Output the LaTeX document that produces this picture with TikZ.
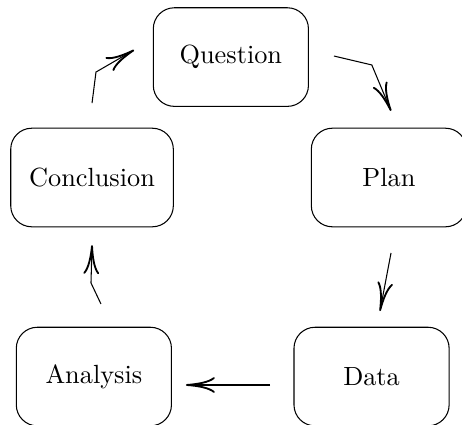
\documentclass[tikz,border=0pt]{standalone}
\usetikzlibrary{arrows.meta,positioning}

\begin{document}
\begin{tikzpicture}[x=1pt,y=1pt,>={To[length=11pt,width=6pt,line width=0.7pt]},
stage/.style = {draw=black, rounded corners=8pt, align=center,
    minimum width=59pt, minimum height=37.5pt, inner sep=7pt}]
\useasboundingbox (0,0) rectangle (175.7,-161.6);
% the five stages
\node[stage] (q) at (87.8,-21.7) {Question};
\node[stage] (p) at (147.9,-67.5) {Plan};
\node[stage] (d) at (141.3,-143.2) {Data};
\node[stage] (a) at (35.7,-143.2) {Analysis};
\node[stage] (c) at (35.0,-67.5) {Conclusion};
% arrow ends and kinks
\coordinate (qp1) at (127.0,-21.3);
\coordinate (qp2) at (141.4,-24.7);
\coordinate (qp3) at (148.7,-42.2);
\coordinate (pd1) at (148.7,-96.2);
\coordinate (pd2) at (144.5,-118.3);
\coordinate (da1) at (102.7,-146.4);
\coordinate (da2) at (70.7,-146.4);
\coordinate (ac1) at (38.4,-115.6);
\coordinate (ac2) at (34.6,-107.6);
\coordinate (ac3) at (35.0,-93.2);
\coordinate (cq1) at (35.0,-39.2);
\coordinate (cq2) at (36.5,-27.4);
\coordinate (cq3) at (51.0,-19.0);
\draw[->] (qp1) -- (qp2) -- (qp3);
\draw[->] (pd1) -- (pd2);
\draw[->] (da1) -- (da2);
\draw[->] (ac1) -- (ac2) -- (ac3);
\draw[->] (cq1) -- (cq2) -- (cq3);
\end{tikzpicture}
\end{document}
